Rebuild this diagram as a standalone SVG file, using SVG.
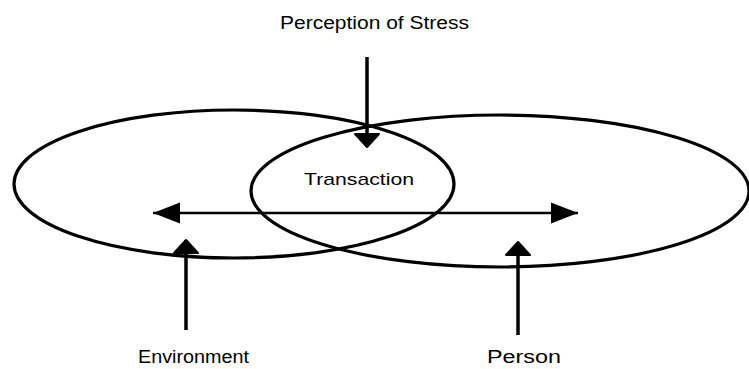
<svg xmlns="http://www.w3.org/2000/svg" width="749" height="369" viewBox="0 0 749 369">
  <style>
    .ring { fill: none; stroke: #000; stroke-width: 3.2; }
    .lbl { font-family: "Liberation Sans", Arial, sans-serif; fill: #000; }
    .vline { stroke: #000; stroke-width: 3.5; fill: none; }
    .hline { stroke: #000; stroke-width: 2.4; fill: none; }
  </style>
  <defs>
    <marker id="va" markerUnits="userSpaceOnUse" markerWidth="16" markerHeight="26" viewBox="0 0 16 26" refX="14" refY="13" orient="auto">
      <path d="M1,1 L14,13 L1,25 Z" fill="#000" stroke="#000" stroke-width="2" stroke-linejoin="round"/>
    </marker>
    <marker id="ha" markerUnits="userSpaceOnUse" markerWidth="30" markerHeight="24" viewBox="0 0 30 24" refX="28" refY="12" orient="auto-start-reverse">
      <path d="M1,1.5 L28,12 L1,22.5 Z" fill="#000"/>
    </marker>
  </defs>

  <g id="environment-ellipse">
    <ellipse class="ring" cx="234" cy="184" rx="220" ry="74"/>
  </g>
  <g id="person-ellipse">
    <ellipse class="ring" cx="500" cy="191" rx="249" ry="76"/>
  </g>

  <g id="perception">
    <text class="lbl" x="280" y="29" font-size="18" textLength="189" lengthAdjust="spacingAndGlyphs">Perception of Stress</text>
  </g>
  <g id="transaction">
    <text class="lbl" x="304" y="185" font-size="17" textLength="110" lengthAdjust="spacingAndGlyphs">Transaction</text>
  </g>
  <g id="environment">
    <text class="lbl" x="138" y="363" font-size="18" textLength="111" lengthAdjust="spacingAndGlyphs">Environment</text>
  </g>
  <g id="person">
    <text class="lbl" x="487" y="363" font-size="18" textLength="74" lengthAdjust="spacingAndGlyphs">Person</text>
  </g>

  <g id="connectors">
    <line class="vline" x1="367" y1="57" x2="367" y2="147" marker-end="url(#va)"/>
    <line class="vline" x1="186" y1="330" x2="186" y2="240" marker-end="url(#va)"/>
    <line class="vline" x1="518" y1="335" x2="518" y2="242" marker-end="url(#va)"/>
    <line class="hline" x1="153" y1="213" x2="578" y2="213" marker-start="url(#ha)" marker-end="url(#ha)"/>
  </g>
</svg>
